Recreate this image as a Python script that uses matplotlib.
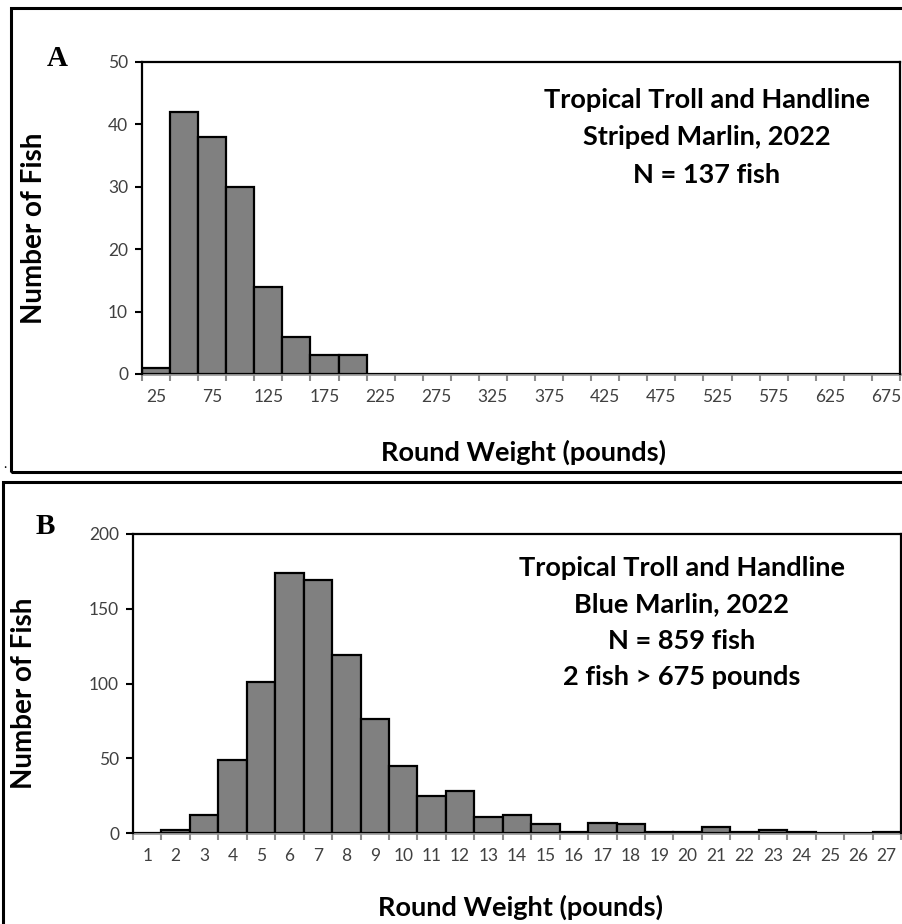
import numpy as np
import matplotlib
matplotlib.use("Agg")
import matplotlib.pyplot as plt
from matplotlib.patches import Rectangle

plt.rcParams['font.family'] = ['Lato', 'DejaVu Sans']

# ---------------- data ----------------
striped_labels = [str(v) for v in range(25, 676, 25)]          # 27 bins, 25-lb bins
striped_counts = [1, 42, 38, 30, 14, 6, 3, 3, 0, 0, 0, 0, 0, 0,
                  0, 0, 0, 0, 0, 0, 0, 0, 0, 0, 0, 0, 0]
blue_labels = [str(v) for v in range(1, 28)]
blue_counts = [0, 2, 12, 49, 101, 174, 169, 119, 76, 45, 25, 28, 11, 12,
               6, 1, 7, 6, 1, 1, 4, 1, 2, 1, 0, 0, 1]

title_a = ["Tropical Troll and Handline", "Striped Marlin, 2022", "N = 137 fish"]
title_b = ["Tropical Troll and Handline", "Blue Marlin, 2022", "N = 859 fish",
           "2 fish > 675 pounds"]
ylim_a, yticks_a = 50, [0, 10, 20, 30, 40, 50]
ylim_b, yticks_b = 200, [0, 50, 100, 150, 200]

W, H = 903, 924
fig = plt.figure(figsize=(W / 100, H / 100), dpi=100)

def fx(px):
    return px / W

def fy(py):
    return 1 - py / H

# outer frames
fig.patches.append(Rectangle((fx(11), fy(472)), fx(920) - fx(11), fy(8) - fy(472),
                             transform=fig.transFigure, fill=False, lw=2.2,
                             edgecolor='black', zorder=0))
fig.patches.append(Rectangle((fx(3), fy(940)), fx(920) - fx(3), fy(482) - fy(940),
                             transform=fig.transFigure, fill=False, lw=2.2,
                             edgecolor='black', zorder=0))
fig.text(fx(5), fy(470), '.', fontsize=10, ha='center', va='bottom')

TICK_COLOR = '#404040'
AXIS_GREY = '#8c8c8c'
BIG = 19.5

def make_panel(rect_px, counts, labels, label_step, ylim, yticks, letter,
               letter_pos, ylabel_pos, xlabel_pos, lines, line_x, line_ys):
    l, t, r, b = rect_px
    ax = fig.add_axes([fx(l), fy(b), fx(r) - fx(l), fy(t) - fy(b)])
    x = np.arange(len(counts))
    ax.bar(x, counts, width=1.0, color='#808080', edgecolor='black',
           linewidth=1.6, zorder=2)
    ax.set_xlim(-0.5, len(counts) - 0.5)
    ax.set_ylim(0, ylim)
    ax.set_yticks(yticks)
    ax.set_yticklabels([str(v) for v in yticks], color=TICK_COLOR, fontsize=12.5)
    ax.set_xticks(np.arange(len(counts) + 1) - 0.5)
    ax.set_xticklabels([])
    ax.set_xticks(x[::label_step], minor=True)
    ax.set_xticklabels(labels[::label_step], minor=True, color=TICK_COLOR,
                       fontsize=12.5)
    ax.tick_params(axis='x', which='major', length=5, width=1.5,
                   color=AXIS_GREY, direction='out')
    ax.tick_params(axis='x', which='minor', length=0, pad=11)
    ax.tick_params(axis='y', length=5, width=1.5, color='black', pad=5)
    for s in ['left', 'top', 'right']:
        ax.spines[s].set_linewidth(1.6)
        ax.spines[s].set_color('black')
    ax.spines['bottom'].set_color(AXIS_GREY)
    ax.spines['bottom'].set_linewidth(1.8)
    ax.spines['bottom'].set_zorder(1)

    fig.text(fx(letter_pos[0]), fy(letter_pos[1]), letter, fontsize=21,
             fontweight='bold', family='Liberation Serif', ha='center',
             va='center')
    fig.text(fx(ylabel_pos[0]), fy(ylabel_pos[1]), 'Number of Fish',
             fontsize=20, fontweight='bold', rotation=90, ha='center',
             va='center')
    fig.text(fx(xlabel_pos[0]), fy(xlabel_pos[1]), 'Round Weight (pounds)',
             fontsize=BIG, fontweight='bold', ha='center', va='center')
    for txt, yy in zip(lines, line_ys):
        fig.text(fx(line_x), fy(yy), txt, fontsize=BIG, fontweight='bold',
                 ha='center', va='center')
    return ax

make_panel((142, 62, 900, 374), striped_counts, striped_labels, 2, ylim_a,
           yticks_a, 'A', (57, 59), (34, 228), (524, 452), title_a, 707,
           [100, 137, 175])
make_panel((133, 534, 901, 833), blue_counts, blue_labels, 1, ylim_b,
           yticks_b, 'B', (45, 527), (24, 693), (521, 907), title_b, 682,
           [568, 604, 641, 677])

fig.savefig('out.png', dpi=100)
